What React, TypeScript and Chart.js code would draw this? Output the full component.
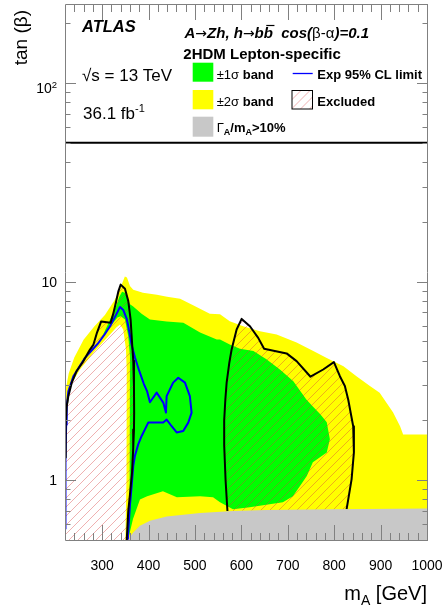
import React, { useEffect, useRef } from 'react';
import { Chart, registerables } from 'chart.js';

Chart.register(...registerables);

type P = [number, number];

const X_MIN = 220;
const X_MAX = 1000;
const Y_MIN = 0.5;
const Y_MAX = 250;

const xTickValues = [300, 400, 500, 600, 700, 800, 900, 1000];
const xTickLabels = ['300', '400', '500', '600', '700', '800', '900', '1000'];
const yTickValues = [1, 10, 100];
const yTickLabels = ['1', '10', '10^2'];
const yMinorValues = [0.6, 0.7, 0.8, 0.9, 2, 3, 4, 5, 6, 7, 8, 9, 20, 30, 40, 50, 60, 70, 80, 90, 200];

// ±2σ band (outer yellow)
const band2Sigma: P[] = [
  [220, 0.5], [220, 2.6], [222.5, 2.95], [228, 3.45], [240, 4.15], [260, 5.1], [283, 5.95],
  [306, 6.8], [326, 8.0], [336, 8.9], [349, 10.6], [353.5, 10.5], [360, 9.5], [367, 9.1],
  [388, 8.8], [418, 8.6], [440, 8.4], [468, 8.2], [496, 7.6], [532, 6.9], [554, 6.85],
  [575, 6.31], [604, 5.96], [640, 5.63], [676, 5.42], [719, 4.93], [755, 4.47], [784, 4.13],
  [820, 3.75], [848, 3.34], [877, 2.98], [898, 2.76], [927, 2.19], [942, 1.87], [948.6, 1.7],
  [1000, 1.7], [1000, 0.5],
];

// ±1σ band (green)
const band1Sigma: P[] = [
  [220, 0.5], [220, 1.5], [221, 2.0], [224, 2.5], [231, 2.97], [246, 3.49], [267, 4.06],
  [289, 4.71], [305, 5.6], [318, 6.5], [330, 7.5], [337, 8.4], [343, 8.9], [349, 8.8],
  [355, 8.2], [360, 7.7], [367, 7.5], [385, 6.9], [403, 6.44], [439, 6.3], [475, 6.2],
  [511, 5.54], [547, 5.11], [554, 5.11], [575, 4.82], [597, 4.59], [626, 4.47], [654, 4.06],
  [683, 3.61], [712, 3.15], [740, 2.55], [754, 2.35], [770, 2.15], [784, 1.96], [790.7, 1.61],
  [784, 1.38], [754, 1.23], [741, 1.05], [726, 0.933], [711, 0.83], [689.5, 0.775], [618, 0.73],
  [582, 0.715], [554, 0.775], [539, 0.82], [511, 0.83], [461, 0.82], [431, 0.88], [397, 0.83],
  [381.5, 0.8], [366.5, 0.637], [355.7, 0.5],
];

// inner -1σ contour (yellow inside low-mass region)
const inner1Sigma: P[] = [
  [220, 0.5], [220, 2.2], [223.7, 2.65], [227.2, 2.87], [238, 3.34], [259.4, 3.9], [288.3, 4.82],
  [310, 5.6], [324, 6.2], [333, 6.6], [340, 6.69], [349.2, 6.44], [356.3, 5.31], [360, 4.21],
  [360, 2.27], [359.5, 1.2], [358, 0.8], [356, 0.6], [354.6, 0.5],
];

// inner -2σ contour (white inside low-mass region)
const inner2Sigma: P[] = [
  [220, 0.5], [220, 2.1], [227.2, 2.46], [230.8, 2.98], [252.3, 3.61], [281, 4.38], [317, 5.42],
  [331, 5.9], [338.5, 6.08], [345.5, 5.74], [351.4, 4.55], [353, 3.61], [353, 2.27], [352, 1.0],
  [350, 0.5],
];

// expected 95% CL limit
const expectedLimit: P[] = [
  [221, 0.567], [221, 1.275], [222.5, 1.9], [223.7, 2.35], [227.2, 2.8], [238, 3.34], [263, 4.13],
  [290, 4.85], [305, 5.4], [317, 5.96], [330, 6.8], [338.5, 7.45], [345.5, 7.2], [353, 6.5],
  [356.3, 5.96], [363.6, 4.8], [370.8, 4.15], [380, 3.55], [390, 3.05], [397, 2.8], [403, 2.47],
  [417.5, 2.76], [431.7, 2.46], [437.5, 2.19], [439, 2.65], [453, 3.1], [464, 3.28], [478.5, 3.1],
  [489, 2.65], [492.8, 2.19], [485.6, 1.95], [474.8, 1.77], [460.6, 1.74], [449.8, 1.87],
  [439, 2.02], [431.7, 1.95], [417.5, 1.95], [399.4, 1.95], [385.2, 1.67], [377.9, 1.52],
  [370.8, 1.33], [367.1, 1.18], [363.6, 0.94], [360, 0.75], [356.3, 0.55], [355.5, 0.5],
];

// observed excluded contour, low mass
const observedLow: P[] = [
  [220.5, 1.3], [221.5, 1.9], [223.7, 2.36], [227.2, 2.65], [234.4, 3.09], [245.2, 3.55],
  [258.8, 3.95], [273.8, 4.55], [281, 4.8], [289, 5.54], [298, 6.3], [318, 6.2], [323.4, 6.82],
  [327.7, 7.5], [334.8, 8.9], [340, 9.66], [349.2, 9.2], [356.3, 8.0], [361.4, 6.44], [365, 4.73],
  [367.1, 4.0], [368.6, 2.98], [369, 2.2], [368.6, 1.8], [367, 1.45], [364.5, 1.1], [360, 0.85],
  [356.3, 0.7], [353, 0.5],
];

// observed excluded contour, high mass
const observedHigh: P[] = [
  [570, 0.7], [566, 1.0], [563, 1.5], [563, 2.0], [565.5, 2.55], [568.3, 3.1], [574, 3.9],
  [579, 4.55], [589.8, 5.74], [600.6, 6.49], [618.5, 5.96], [636.3, 5.21], [649, 4.59],
  [697.5, 4.35], [719, 3.98], [749, 3.32], [776.3, 3.61], [799.4, 3.93], [812.3, 3.34],
  [823, 2.98], [830.2, 2.55], [841, 1.87], [842.5, 1.38], [837.5, 1.01], [826.8, 0.715],
];

// Γ_A/m_A > 10% region
const widthRegion: P[] = [
  [356.4, 0.5], [360, 0.52], [367, 0.546], [381.5, 0.589], [403, 0.625], [439, 0.657],
  [511, 0.683], [582.5, 0.699], [654, 0.707], [798, 0.715], [1000, 0.72], [1000, 0.5],
];

const upperLine: P[] = [[220, 50], [1000, 50]];

const FONT = '"Liberation Sans", Arial, Helvetica, sans-serif';
const r = (s: number) => `${s}px ${FONT}`;
const b = (s: number) => `bold ${s}px ${FONT}`;
const bi = (s: number) => `italic bold ${s}px ${FONT}`;
const arrowFont = (s: number) => `${s}px "DejaVu Sans", ${FONT}`;

const HATCH_COLOR = 'rgba(215,60,60,0.5)';
const HATCH_STEP = 9;

type Run = [string, string, number?];

function runsWidth(ctx: CanvasRenderingContext2D, runs: Run[]) {
  let w = 0;
  for (const [t, f] of runs) {
    ctx.font = f;
    w += ctx.measureText(t).width;
  }
  return w;
}

function drawRuns(ctx: CanvasRenderingContext2D, x: number, y: number, runs: Run[], align: 'left' | 'right' | 'center' = 'left') {
  const total = runsWidth(ctx, runs);
  let cx = align === 'right' ? x - total : align === 'center' ? x - total / 2 : x;
  ctx.textAlign = 'left';
  ctx.textBaseline = 'alphabetic';
  const pos: [number, number][] = [];
  for (const [t, f, dy = 0] of runs) {
    ctx.font = f;
    ctx.fillText(t, cx, y + dy);
    const w = ctx.measureText(t).width;
    pos.push([cx, w]);
    cx += w;
  }
  return pos;
}

function hatchRect(ctx: CanvasRenderingContext2D, x0: number, y0: number, x1: number, y1: number) {
  const h = y1 - y0;
  ctx.strokeStyle = HATCH_COLOR;
  ctx.lineWidth = 0.8;
  ctx.beginPath();
  for (let k = x0 - h; k < x1; k += HATCH_STEP) {
    ctx.moveTo(k, y1);
    ctx.lineTo(k + h, y0);
  }
  ctx.stroke();
}

export default function App() {
  const ref = useRef<HTMLCanvasElement | null>(null);

  useEffect(() => {
    document.body.style.margin = '0';
    const canvas = ref.current;
    if (!canvas) return;

    const pts = (a: P[]) => a.map(([x, y]) => ({ x, y }));
    const area = (data: P[], color: string, order: number, hatch = false) => ({
      data: pts(data), backgroundColor: color, borderColor: 'rgba(0,0,0,0)', borderWidth: 0,
      fill: 'shape', pointRadius: 0, order, hatch,
    });
    const curve = (data: P[], color: string, width: number, order: number) => ({
      data: pts(data), borderColor: color, borderWidth: width, backgroundColor: color,
      fill: false, pointRadius: 0, order, borderJoinStyle: 'round', borderCapStyle: 'butt',
    });

    const datasets: any[] = [
      area(band2Sigma, '#ffff00', 20),
      area(band1Sigma, '#00ff00', 19),
      area(inner1Sigma, '#ffff00', 18),
      area(inner2Sigma, '#ffffff', 17),
      area([[220, 0.5], ...observedLow], 'rgba(0,0,0,0)', 16, true),
      area(observedHigh, 'rgba(0,0,0,0)', 15, true),
      curve(expectedLimit, '#0000ff', 2, 10),
      curve(observedLow, '#000000', 2, 9),
      curve(observedHigh, '#000000', 2, 9),
      area(widthRegion, '#c8c8c8', 5),
      curve(upperLine, '#000000', 2, 1),
    ];

    const hatcher = {
      id: 'hatcher',
      afterDatasetDraw(chart: any, args: any) {
        const ds = chart.data.datasets[args.index];
        if (!ds || !ds.hatch) return;
        const els = args.meta.data;
        if (!els || !els.length) return;
        const { ctx, chartArea: a } = chart;
        ctx.save();
        ctx.beginPath();
        ctx.rect(a.left, a.top, a.right - a.left, a.bottom - a.top);
        ctx.clip();
        ctx.beginPath();
        els.forEach((p: any, i: number) => (i ? ctx.lineTo(p.x, p.y) : ctx.moveTo(p.x, p.y)));
        ctx.closePath();
        ctx.clip();
        hatchRect(ctx, a.left, a.top, a.right, a.bottom);
        ctx.restore();
      },
    };

    const decor = {
      id: 'rootDecor',
      afterDraw(chart: any) {
        const { ctx, chartArea: a, scales } = chart;
        const xs = scales.x;
        const ys = scales.y;
        ctx.save();
        // frame
        ctx.strokeStyle = '#808080';
        ctx.lineWidth = 1;
        ctx.beginPath();
        ctx.moveTo(a.left + 0.5, a.top + 0.5); ctx.lineTo(a.left + 0.5, a.bottom + 0.5);
        ctx.moveTo(a.right + 0.5, a.top + 0.5); ctx.lineTo(a.right + 0.5, a.bottom + 0.5);
        ctx.moveTo(a.left + 0.5, a.top + 0.5); ctx.lineTo(a.right + 0.5, a.top + 0.5);
        ctx.moveTo(a.left + 0.5, a.bottom + 0.5); ctx.lineTo(a.right + 0.5, a.bottom + 0.5);
        ctx.stroke();
        // y ticks
        const yTick = (v: number, len: number) => {
          const py = Math.round(ys.getPixelForValue(v)) + 0.5;
          ctx.moveTo(a.left, py); ctx.lineTo(a.left + len, py);
          ctx.moveTo(a.right + 1, py); ctx.lineTo(a.right + 1 - len, py);
        };
        ctx.beginPath();
        yTickValues.forEach((v) => yTick(v, 11));
        yMinorValues.forEach((v) => yTick(v, 5.5));
        // x ticks
        const xTick = (v: number, len: number) => {
          const px = Math.round(xs.getPixelForValue(v)) + 0.5;
          ctx.moveTo(px, a.bottom + 1); ctx.lineTo(px, a.bottom + 1 - len);
          ctx.moveTo(px, a.top); ctx.lineTo(px, a.top + len);
        };
        xTickValues.forEach((v) => xTick(v, 16));
        for (let v = X_MIN + 20; v < X_MAX; v += 20) {
          if (!xTickValues.includes(v)) xTick(v, 8);
        }
        ctx.stroke();

        ctx.fillStyle = '#000000';
        // x tick labels
        xTickValues.forEach((v, i) => {
          drawRuns(ctx, xs.getPixelForValue(v), 570, [[xTickLabels[i], r(14)]], 'center');
        });
        // y tick labels
        yTickValues.forEach((v, i) => {
          const py = ys.getPixelForValue(v);
          const [base, exp] = yTickLabels[i].split('^');
          if (exp) {
            drawRuns(ctx, 57, py + 10, [[base, r(14)], [exp, r(9.5), -5.5]], 'right');
          } else {
            drawRuns(ctx, 57, py + 5, [[base, r(14)]], 'right');
          }
        });
        // axis titles
        drawRuns(ctx, 427, 599.5, [['m', r(20)], ['A', r(14), 5], [' [GeV]', r(20)]], 'right');
        ctx.save();
        ctx.translate(26.8, 10);
        ctx.rotate(-Math.PI / 2);
        drawRuns(ctx, 0, 0, [['tan (β)', r(19)]], 'right');
        ctx.restore();

        // annotations
        drawRuns(ctx, 82, 32, [['ATLAS', bi(16.5)]]);
        const pos = drawRuns(ctx, 184.5, 38.3, [
          ['A', bi(15)], ['→', arrowFont(14)], ['Zh, h', bi(15)], ['→', arrowFont(14)], ['b', bi(15)], ['b', bi(15)],
          ['  cos(', bi(15)], ['β-α', r(15)], [')=0.1', bi(15)],
        ]);
        const [bx, bw] = pos[5];
        ctx.lineWidth = 1.2;
        ctx.strokeStyle = '#000000';
        ctx.beginPath();
        ctx.moveTo(bx + 2.5, 25.5); ctx.lineTo(bx + bw + 1.5, 25.5);
        ctx.stroke();
        drawRuns(ctx, 183.3, 59, [['2HDM Lepton-specific', b(15)]]);
        drawRuns(ctx, 82, 80.5, [['√s = 13 TeV', r(17)]]);
        drawRuns(ctx, 83, 119, [['36.1 fb', r(17)], ['-1', r(11), -7.3]]);

        // legend
        ctx.fillStyle = '#00ff00';
        ctx.fillRect(192.7, 62.7, 20.6, 19);
        ctx.fillStyle = '#ffff00';
        ctx.fillRect(192.7, 90, 20.6, 19.3);
        ctx.fillStyle = '#c8c8c8';
        ctx.fillRect(192.7, 116.7, 20.6, 20);
        ctx.strokeStyle = '#0000ff';
        ctx.lineWidth = 1.3;
        ctx.beginPath();
        ctx.moveTo(292.7, 73.5); ctx.lineTo(312.7, 73.5);
        ctx.stroke();
        // hatched legend box
        ctx.save();
        ctx.beginPath();
        ctx.rect(292, 90.5, 20.5, 18.5);
        ctx.clip();
        hatchRect(ctx, 292, 90.5, 312.5, 109);
        ctx.restore();
        ctx.strokeStyle = '#000000';
        ctx.lineWidth = 1;
        ctx.strokeRect(292, 90.5, 20.5, 18.5);

        ctx.fillStyle = '#000000';
        drawRuns(ctx, 216.7, 79, [['±1σ', r(13)], [' band', b(13)]]);
        drawRuns(ctx, 216.7, 105.7, [['±2σ', r(13)], [' band', b(13)]]);
        drawRuns(ctx, 216.7, 131.5, [['Γ', r(13)], ['A', b(9), 3], ['/m', b(13)], ['A', b(9), 3], ['>10%', b(13)]]);
        drawRuns(ctx, 317.3, 79, [['Exp 95% CL limit', b(13)]]);
        drawRuns(ctx, 317.3, 105.7, [['Excluded', b(13)]]);
        ctx.restore();
      },
    };

    const chart = new Chart(canvas, {
      type: 'line',
      data: { datasets },
      options: {
        responsive: false,
        animation: false,
        events: [],
        layout: { padding: { left: 65, right: 16, top: 4, bottom: 72 } },
        scales: {
          x: { type: 'linear', min: X_MIN, max: X_MAX, display: false },
          y: { type: 'logarithmic', min: Y_MIN, max: Y_MAX, display: false },
        },
        plugins: { legend: { display: false }, tooltip: { enabled: false } },
        elements: { point: { radius: 0 }, line: { tension: 0 } },
      } as any,
      plugins: [hatcher, decor],
    });
    return () => chart.destroy();
  }, []);

  return (
    <div style={{ width: 443, height: 612, background: '#ffffff' }}>
      <canvas ref={ref} width={443} height={612} style={{ display: 'block', width: 443, height: 612 }} />
    </div>
  );
}
